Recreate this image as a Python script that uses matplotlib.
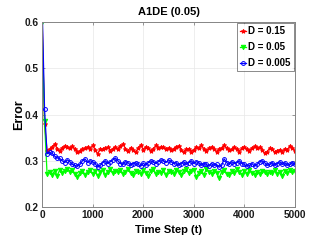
import numpy as np
import matplotlib.pyplot as plt

# error curves, one point every 50 time steps (0..5000)
err_d015 = [
    0.62, 0.380, 0.322, 0.325, 0.330, 0.336, 0.326, 0.322, 0.328, 0.332,
    0.330, 0.328, 0.331, 0.326, 0.318, 0.322, 0.325, 0.327, 0.330, 0.326,
    0.333, 0.324, 0.315, 0.326, 0.325, 0.327, 0.329, 0.322, 0.326, 0.330,
    0.325, 0.332, 0.336, 0.326, 0.322, 0.328, 0.323, 0.318, 0.327, 0.334,
    0.324, 0.330, 0.328, 0.322, 0.326, 0.333, 0.327, 0.330, 0.330, 0.326,
    0.328, 0.323, 0.326, 0.330, 0.332, 0.324, 0.318, 0.325, 0.326, 0.320,
    0.324, 0.330, 0.328, 0.333, 0.326, 0.322, 0.327, 0.330, 0.325, 0.320,
    0.326, 0.328, 0.334, 0.327, 0.323, 0.325, 0.330, 0.326, 0.320, 0.327,
    0.330, 0.325, 0.322, 0.328, 0.331, 0.327, 0.329, 0.324, 0.316, 0.320,
    0.327, 0.325, 0.318, 0.322, 0.324, 0.320, 0.326, 0.324, 0.332, 0.328,
    0.322,
]
err_d005 = [
    0.60, 0.385, 0.272, 0.276, 0.270, 0.278, 0.268, 0.280, 0.274, 0.278,
    0.282, 0.276, 0.280, 0.272, 0.265, 0.274, 0.278, 0.270, 0.276, 0.280,
    0.272, 0.278, 0.268, 0.275, 0.280, 0.270, 0.276, 0.282, 0.273, 0.278,
    0.275, 0.280, 0.272, 0.276, 0.283, 0.274, 0.270, 0.278, 0.276, 0.272,
    0.280, 0.274, 0.268, 0.278, 0.282, 0.272, 0.276, 0.274, 0.280, 0.270,
    0.278, 0.275, 0.272, 0.280, 0.276, 0.270, 0.278, 0.282, 0.274, 0.278,
    0.280, 0.265, 0.274, 0.278, 0.270, 0.282, 0.276, 0.272, 0.278, 0.274,
    0.262, 0.276, 0.280, 0.272, 0.270, 0.278, 0.274, 0.282, 0.276, 0.270,
    0.278, 0.272, 0.280, 0.274, 0.270, 0.276, 0.272, 0.278, 0.275, 0.271,
    0.276, 0.274, 0.280, 0.272, 0.276, 0.268, 0.278, 0.274, 0.280, 0.276,
    0.278,
]
err_d0005 = [
    0.65, 0.412, 0.315, 0.318, 0.316, 0.310, 0.306, 0.305, 0.300, 0.296,
    0.302, 0.298, 0.292, 0.290, 0.288, 0.292, 0.300, 0.304, 0.296, 0.300,
    0.298, 0.294, 0.286, 0.290, 0.296, 0.300, 0.294, 0.298, 0.302, 0.306,
    0.300, 0.294, 0.292, 0.298, 0.296, 0.290, 0.294, 0.296, 0.292, 0.288,
    0.295, 0.290, 0.296, 0.300, 0.297, 0.294, 0.298, 0.302, 0.300, 0.296,
    0.302, 0.298, 0.294, 0.296, 0.290, 0.294, 0.298, 0.292, 0.296, 0.300,
    0.294, 0.298, 0.296, 0.290, 0.294, 0.292, 0.288, 0.294, 0.290, 0.292,
    0.286, 0.290, 0.304, 0.296, 0.292, 0.298, 0.294, 0.296, 0.300, 0.294,
    0.292, 0.288, 0.290, 0.294, 0.288, 0.292, 0.298, 0.300, 0.296, 0.290,
    0.292, 0.296, 0.290, 0.294, 0.298, 0.292, 0.296, 0.290, 0.292, 0.296,
    0.292,
]

series = [
    ("D = 0.15", err_d015, "#ff0000", "*"),
    ("D = 0.05", err_d005, "#00ff00", "v"),
    ("D = 0.005", err_d0005, "#0000ff", "o"),
]

plt.rcParams.update({
    "font.family": ["Liberation Sans", "DejaVu Sans"],
    "font.weight": "bold",
    "font.size": 7,
    "axes.linewidth": 0.7,
    "axes.edgecolor": "#858585",
    "xtick.color": "#858585",
    "ytick.color": "#858585",
    "xtick.labelcolor": "#1a1a1a",
    "ytick.labelcolor": "#1a1a1a",
    "xtick.direction": "in",
    "ytick.direction": "in",
    "xtick.top": True,
    "ytick.right": True,
    "xtick.major.size": 2.0,
    "ytick.major.size": 2.0,
    "xtick.major.width": 0.6,
    "ytick.major.width": 0.6,
})

fig = plt.figure(figsize=(3.27, 2.45), dpi=100)
ax = fig.add_axes([42 / 327, 1 - 207 / 245, 253 / 327, 185 / 245])

for label, vals, col, mk in series:
    t = np.linspace(0, 5000, len(vals))
    ax.plot(t, vals, color=col, lw=0.9, marker=mk, ms=3.2 if mk != "o" else 2.8,
            mfc=col if mk != "o" else "none", mew=0.7, label=label)

ax.set_xlim(0, 5000)
ax.set_ylim(0.2, 0.6)
ax.set_xticks([0, 1000, 2000, 3000, 4000, 5000])
ax.set_yticks([0.2, 0.3, 0.4, 0.5, 0.6])
ax.set_yticklabels(["0.2", "0.3", "0.4", "0.5", "0.6"])
ax.grid(True, color="#e8e8e8", lw=0.5)
ax.set_axisbelow(True)
ax.tick_params(labelsize=7.3, pad=2.5)
for lab in ax.get_xticklabels() + ax.get_yticklabels():
    lab.set_fontweight("bold")

ax.set_title("A1DE (0.05)", fontsize=8, fontweight="bold", pad=5)
ax.set_xlabel("Time Step (t)", fontsize=8, fontweight="bold", labelpad=3.5)
ax.set_ylabel("Error", fontsize=9, fontweight="bold")
ax.yaxis.set_label_coords(-0.066, 0.5)

leg = ax.legend(loc="upper right", fontsize=7, frameon=True, fancybox=False,
                edgecolor="#333333", handlelength=0.7, handletextpad=0.2,
                borderpad=0.3, labelspacing=0.6, borderaxespad=0.15)
leg.get_frame().set_linewidth(0.5)
for txt in leg.get_texts():
    txt.set_fontweight("bold")

fig.savefig("out.png", dpi=100)
